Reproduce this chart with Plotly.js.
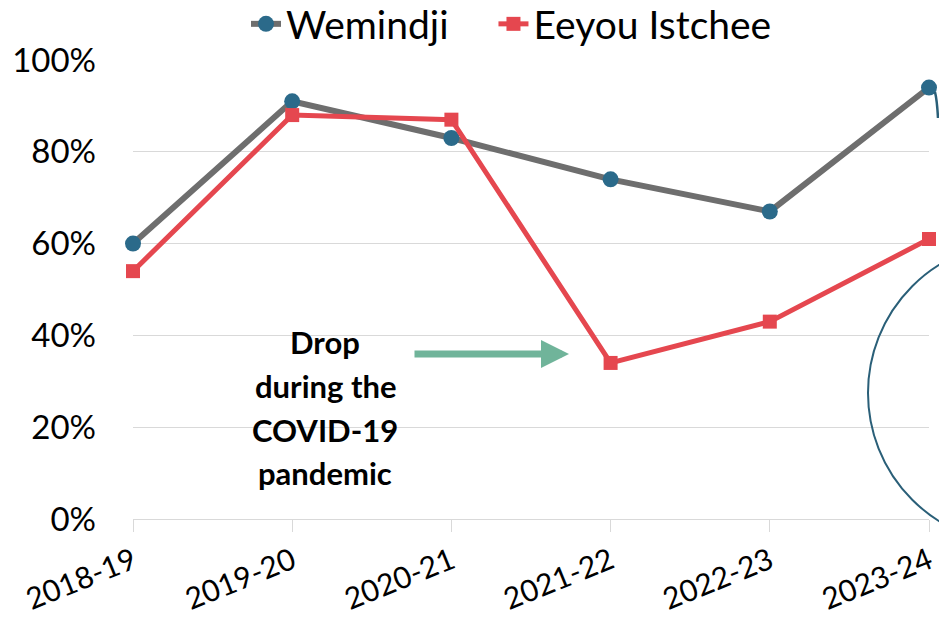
<!DOCTYPE html>
<html><head><meta charset="utf-8">
<script src="https://cdn.plot.ly/plotly-3.0.1.min.js"></script>
<style>html,body{margin:0;padding:0;background:#fff;overflow:hidden}#chart{width:939px;height:618px}</style>
</head><body><div id="chart"></div>
<script>
const years = ["2018-19","2019-20","2020-21","2021-22","2022-23","2023-24"];
const wemindji = [60, 91, 83, 74, 67, 94];
const eeyou = [54, 88, 87, 34, 43, 61];
const yTicks = [0, 20, 40, 60, 80, 100];
const yTickText = ["0%","20%","40%","60%","80%","100%"];
const noteLines = ["Drop", "during the", "COVID-19", "pandemic"];

const FONT = "Lato, 'Open Sans', sans-serif";
const L = 133, R = 929, T = 60, B = 519;
const px = x => (x - L) / (R - L);
const py = y => (B - y) / (B - T);

const traces = [
  {x: years, y: wemindji, name: "Wemindji\u00a0\u00a0\u00a0\u00a0", type: "scatter", mode: "lines+markers",
   line: {color: "#6e6e6e", width: 6}, marker: {color: "#2b6a8a", size: 16, symbol: "circle"}, cliponaxis: false},
  {x: years, y: eeyou, name: "Eeyou Istchee", type: "scatter", mode: "lines+markers",
   line: {color: "#e5474f", width: 5}, marker: {color: "#e5474f", size: 14, symbol: "square"}, cliponaxis: false}
];

const noteY = [342, 386, 430, 473];
const annotations = noteLines.map((t, i) => ({
  xref: "paper", yref: "paper", x: px(325), y: py(noteY[i]), xanchor: "center", yanchor: "middle",
  text: "<b>" + t + "</b>", showarrow: false, font: {size: 31, family: FONT, color: "#000"}
}));
annotations.push({xref: "paper", yref: "paper", x: px(569), y: py(354), text: "", showarrow: true,
  axref: "pixel", ayref: "pixel", ax: -156, ay: 0, arrowhead: 2, arrowsize: 0.8, arrowwidth: 7,
  arrowcolor: "#70b49a", standoff: 0});

const layout = {
  width: 939, height: 618,
  margin: {l: L, r: 939 - R, t: T, b: 618 - B, autoexpand: false},
  paper_bgcolor: "#fff", plot_bgcolor: "#fff",
  font: {family: FONT, color: "#000", size: 33},
  showlegend: true,
  legend: {orientation: "h", x: 246 / 939, xref: "container", xanchor: "left", y: 1 - 24 / 618, yref: "container", yanchor: "middle",
           font: {size: 39, family: FONT, color: "#000"}, tracegroupgap: 0, borderwidth: 0},
  xaxis: {type: "category", range: [0, 5], tickangle: -22, ticks: "outside", ticklen: 12,
          tickcolor: "#d9d9d9", showgrid: false, showline: true, linecolor: "#d9d9d9", linewidth: 1,
          tickfont: {size: 30, family: FONT}, fixedrange: true, automargin: false},
  yaxis: {range: [0, 100], tickvals: yTicks, ticktext: yTickText, showgrid: true, gridcolor: "#d9d9d9",
          gridwidth: 1, zeroline: false, showline: false, ticks: "", ticklabelstandoff: 36,
          tickfont: {size: 33, family: FONT}, fixedrange: true, automargin: false},
  shapes: [
    {type: "circle", xref: "paper", yref: "paper", x0: px(868), x1: px(1170), y0: py(544), y1: py(242),
     line: {color: "#2a5f78", width: 2}, layer: "above"},
    {type: "path", xref: "paper", yref: "paper",
     path: `M ${px(935)} ${py(92)} Q ${px(937)} ${py(100)} ${px(938)} ${py(118)}`,
     line: {color: "#2a5f78", width: 2.5}, layer: "above"}
  ],
  annotations: annotations
};
Plotly.newPlot("chart", traces, layout, {displayModeBar: false, staticPlot: true});
</script></body></html>
